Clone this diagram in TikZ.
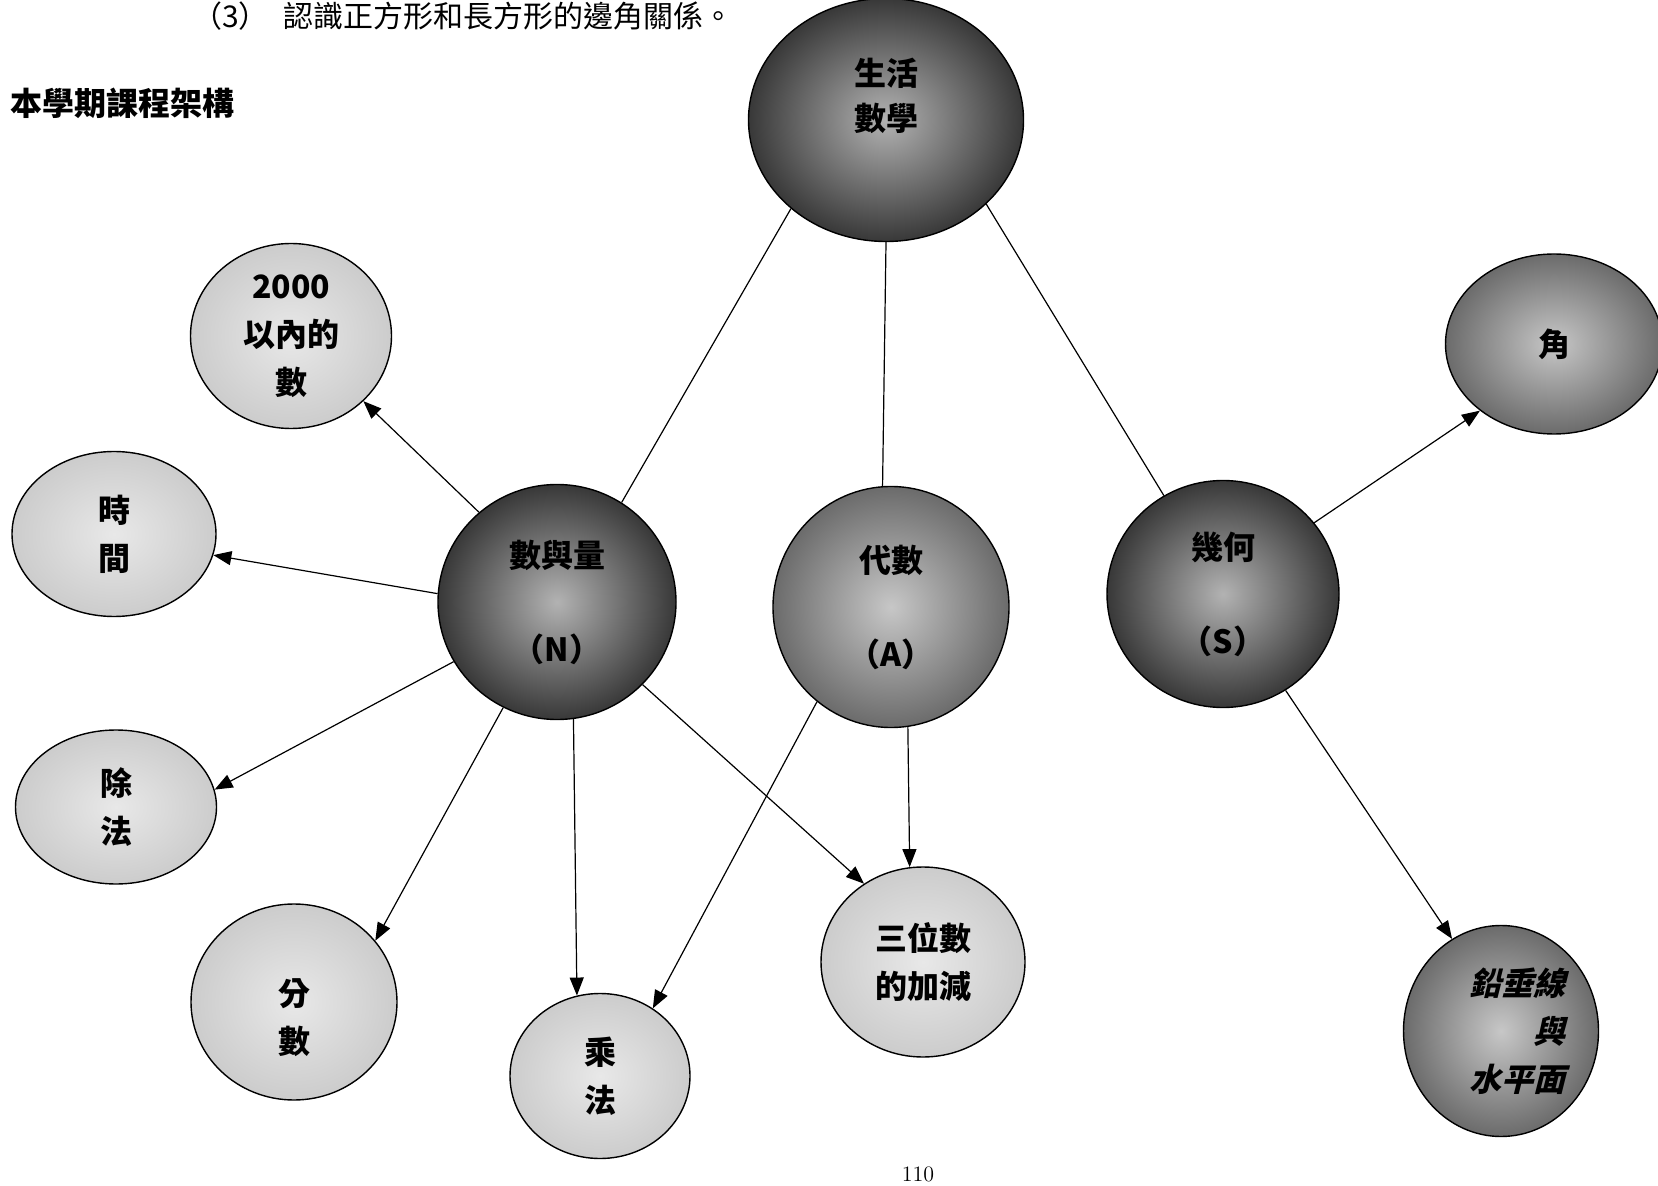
\documentclass[tikz,border=0pt]{standalone}
\usepackage{fontspec}
\newfontfamily\cjk{Noto Sans CJK TC}
\usetikzlibrary{shapes.geometric}
\usetikzlibrary{arrows.meta}

\begin{document}
\begin{tikzpicture}[x=.5pt, y=-.5pt, font=\cjk\bfseries\fontsize{16}{24}\selectfont,
  ball/.style={ellipse, draw, line width=.7pt, inner sep=0pt, align=center},
  dark/.style={ball, inner color=black!30, outer color=black!78},
  mid/.style={ball, inner color=black!22, outer color=black!58},
  light/.style={ball, inner color=black!9, outer color=black!20},
  link/.style={line width=.6pt},
  arr/.style={line width=.6pt, -{Triangle[length=9pt,width=7pt]}}]
  \useasboundingbox (0,0) rectangle (1658,1186);
  \node[anchor=west, font=\cjk\fontsize{15}{15}\selectfont] (head) at (185,16) {（3）\hspace{.5em}認識正方形和長方形的邊角關係。};
  \node[anchor=west, font=\cjk\bfseries\fontsize{16}{16}\selectfont] (title) at (3,103) {本學期課程架構};
  \node[font=\fontsize{11}{11}\selectfont] (page) at (918,1174) {110};

  \node[dark, minimum width=137.5pt, minimum height=121.5pt] (life) at (886,120) {};
  \node[align=center, font=\cjk\bfseries\fontsize{16}{22.5}\selectfont] (lifetext) at (886,96) {生活\\數學};
  \node[dark, minimum width=119pt, minimum height=117.5pt] (numq) at (557,602) {數與量\\[23pt]（N）};
  \node[mid, minimum width=118pt, minimum height=120.5pt] (alg) at (891,607) {代數\\[23pt]（A）};
  \node[dark, minimum width=116pt, minimum height=113.5pt] (geo) at (1223,594) {幾何\\[23pt]（S）};

  \node[light, minimum width=100.5pt, minimum height=92.5pt] (n2000) at (291,336) {2000\\以內的\\數};
  \node[light, minimum width=102pt, minimum height=82.5pt] (time) at (114,534) {時\\間};
  \node[light, minimum width=100.5pt, minimum height=77pt] (div) at (116,807) {除\\法};
  \node[light, minimum width=103pt, minimum height=98pt] (frac) at (294,1002) {};
  \node[align=center] (fractext) at (294,1018) {分\\數};
  \node[light, minimum width=90pt, minimum height=82.5pt] (mul) at (600,1076) {乘\\法};
  \node[light, minimum width=102pt, minimum height=95pt] (add3) at (923,962) {三位數\\的加減};
  \node[mid, minimum width=108.5pt, minimum height=90pt] (ang) at (1554,344) {角};
  \node[mid, minimum width=97.5pt, minimum height=105.5pt, font=\cjk\bfseries\fontsize{16}{24}\selectfont\addfontfeature{FakeSlant=0.25}] (plumb) at (1501,1031) {\hspace*{1em}鉛垂線\\\hspace*{3em}與\\\hspace*{1em}水平面};

  \draw[link] (life.223) -- (numq.57);
  \draw[link] (life.270) -- (alg.94);
  \draw[link] (life.-40) -- (geo.121);
  \draw[arr] (numq.131) -- (n2000.-42);
  \draw[arr] (numq.176) -- (time.-12);
  \draw[arr] (numq.210) -- (div.10);
  \draw[arr] (numq.243) -- (frac.37);
  \draw[arr] (numq.278) -- (mul.106);
  \draw[arr] (numq.-44) -- (add3.127);
  \draw[arr] (alg.-82) -- (add3.98);
  \draw[arr] (alg.-128) -- (mul.52);
  \draw[arr] (geo.38) -- (ang.222);
  \draw[arr] (geo.-57) -- (plumb.118);
\end{tikzpicture}
\end{document}
